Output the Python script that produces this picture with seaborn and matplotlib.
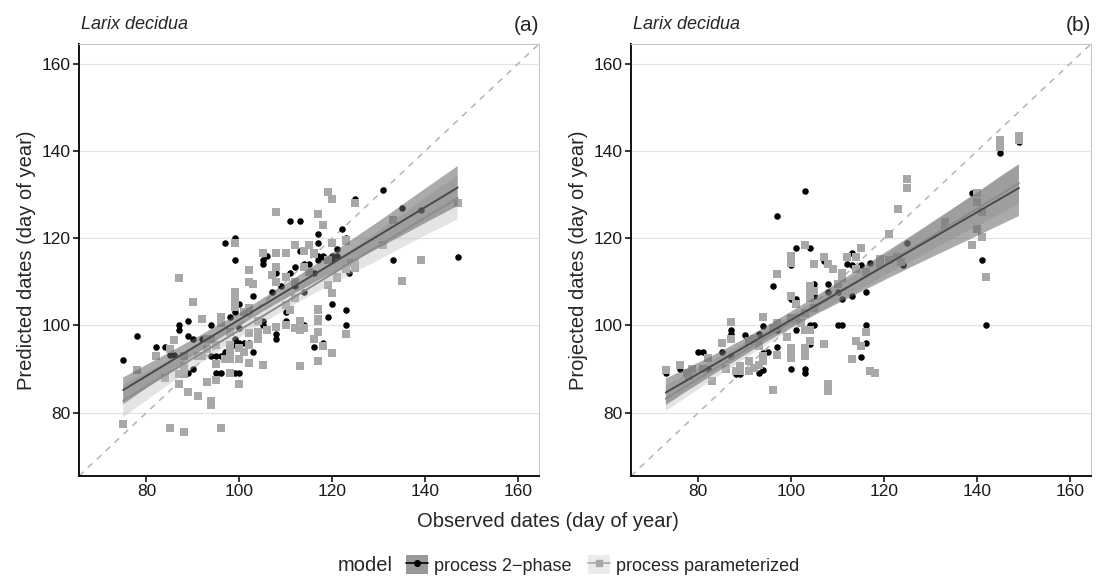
import matplotlib
matplotlib.use("Agg")
import matplotlib.pyplot as plt
from matplotlib.lines import Line2D
from matplotlib.patches import Patch
from matplotlib.legend_handler import HandlerTuple
import pandas as pd
import seaborn as sns

# panel (a): observed vs predicted (last rows of the 2-phase lists sit under grey squares)
a_phase_obs = [125, 111, 113, 97, 99, 99, 122, 117, 117, 123, 121, 120, 121, 117, 118, 113, 115, 111, 112, 108,
               106, 105, 105, 108, 109, 112, 116, 123.7, 114, 107, 103, 120, 123, 119, 123, 114, 110, 110, 108, 108,
               104, 105, 105, 104, 103, 116, 118, 100, 98, 99, 102, 100, 99, 99, 100, 101, 102, 98, 97, 98,
               94, 94, 95, 96, 92, 90, 89, 87, 87, 89, 82, 84, 78, 90, 89, 88, 95, 96, 99, 100,
               85, 86, 75, 131, 135, 139, 147, 133, 117, 118, 120, 114,
               78, 82, 84, 87, 89, 91, 93, 95, 88, 125, 119, 120, 133, 147, 131, 117, 118]
a_phase_pred = [129, 124, 124, 119, 120, 115, 122, 121, 119, 120, 117.5, 116, 116, 116, 116, 117, 114, 112, 113.5, 112,
                116, 115, 114, 110, 109, 109, 112, 112, 107.7, 107.7, 106.8, 105, 103.6, 102, 100, 100, 103, 101, 98, 97,
                101, 101, 100, 97, 94, 95, 96, 105, 102, 103, 104, 99.5, 97, 95.6, 96, 96, 96, 94, 94, 93,
                100, 93, 93, 93, 97, 97, 97.5, 100, 99, 101, 95, 95, 97.5, 90, 89, 89.5, 89, 89, 89, 89,
                93.3, 93.3, 92, 131, 127, 126.5, 115.6, 115, 115, 115.7, 115, 114,
                89.9, 93, 87.9, 86.6, 84.8, 83.8, 87, 87.6, 88.8, 128, 130.5, 129, 124.2, 128, 118.5, 125.6, 123]
a_param_obs = [119, 120, 125, 108, 117, 118, 99, 112, 114, 115, 105, 108, 110, 116, 120, 123, 108, 107, 108, 110,
               112, 114, 115, 102, 102, 103, 99, 99, 99, 87, 90, 92, 96, 96, 102, 101, 104, 106, 108, 110,
               111, 112, 110, 113, 113, 117, 117, 117, 120, 119, 121, 124, 125, 123, 123, 120, 117, 116, 113, 105,
               102, 100, 98, 97, 98, 100, 95, 95, 93, 94, 94, 91, 89, 87, 84, 78, 82, 85, 86, 88,
               88, 87, 88, 91, 92, 93, 93, 94, 95, 98, 98, 98, 100, 101, 102, 104, 104, 102, 112, 114,
               75, 85, 88, 96, 133, 147, 131, 139, 135, 123, 115, 114, 116, 119, 125, 125, 121, 117, 117, 118]
a_param_pred = [130.5, 129, 128, 126, 125.6, 123, 119, 118.5, 117, 118.4, 116.5, 116.5, 116.5, 116.5, 119, 119.5, 113.4, 111.5, 110, 111,
                110, 113.4, 112.3, 112.7, 110, 109.6, 107.7, 106, 104.3, 110.8, 105.3, 101.5, 102, 100.5, 104, 103, 101, 99, 99.6, 104.7,
                103.6, 106.2, 100.2, 101, 99, 103.6, 101, 98.6, 107.4, 109.3, 110.8, 114.2, 113.2, 113, 98, 93.7, 91.8, 97, 90.8, 91,
                91.4, 92.2, 92.2, 92.2, 89, 86.6, 91.2, 87.6, 87, 82.7, 81.8, 83.8, 84.8, 86.6, 87.9, 89.9, 93, 94.5, 96.7, 93,
                90.7, 88.8, 88.8, 93, 93, 94.5, 97, 97, 95.6, 98.6, 95.6, 94, 94.8, 94, 95.6, 98.6, 97, 98.3, 99.4, 99.4,
                77.5, 76.6, 75.5, 76.6, 124.2, 128, 118.5, 115, 110.2, 119.4, 118.4, 117, 116.3, 115, 114.4, 113.2, 111, 103.8, 101.5, 95.3]

# panel (b): observed vs projected
b_phase_obs = [97, 101, 104, 113, 112, 113, 115, 107, 117, 125, 105, 108, 108, 110, 116, 113, 111, 96, 100, 101,
               104, 105, 110, 111, 116, 116, 115, 101, 94, 97, 87, 87, 90, 93, 97, 104, 95, 80, 81, 85,
               87, 100, 103, 103, 88, 89, 93, 94, 82, 78, 103, 100, 105, 145, 139, 141, 124, 142, 118, 73,
               76, 78, 100, 103, 94, 149,
               73, 76, 78, 81, 83, 86, 88, 91, 96, 125, 125, 133, 140, 141, 140, 145, 149, 87, 85, 93, 94, 100, 103]
b_phase_proj = [125, 117.8, 117.8, 116.7, 114, 113.8, 113.8, 114.7, 114.2, 119, 109.6, 109.6, 107.7, 107.7, 107.7, 106.8, 106, 109, 106, 106,
                100, 100, 100, 100, 100, 96, 92.8, 99, 99.8, 99, 99, 98, 97.7, 98, 95, 95.7, 94, 94, 94, 94,
                93, 90, 90, 89, 88.8, 88.8, 89, 89.7, 90, 88.8, 130.8, 113.8, 106.8, 139.6, 130.3, 115, 113.8, 100, 89, 89,
                90, 89, 95, 94, 93.7, 142,
                89.8, 91, 88.4, 90, 87.2, 90, 89.5, 89.5, 85.3, 133.6, 131.5, 123.7, 128.2, 126, 122, 142.5, 143.5, 97, 96, 95.2, 91.8, 93.7, 93]
b_param_obs = [123, 121, 115, 103, 100, 100, 100, 105, 107, 108, 109, 112, 114, 114, 116, 119, 111, 111, 110, 97,
               104, 104, 104, 105, 100, 101, 103, 105, 100, 101, 102, 103, 104, 94, 96, 97, 99, 104, 107, 100,
               100, 100, 103, 103, 97, 87, 85, 87, 91, 92, 93, 94, 94, 93, 91, 91, 92, 89, 88, 89,
               86, 82, 83, 77.6, 78.7, 81, 96, 108, 108, 113, 114, 115, 116, 117, 118, 123.6, 122.7, 119, 121, 125,
               125, 133, 133, 140, 140, 141, 140, 141, 139, 142, 116, 73, 76, 78, 145, 145, 149, 149]
b_param_proj = [126.6, 121, 117.8, 118.5, 116, 115, 114.2, 114, 115.7, 114, 113, 115.7, 115.7, 113, 112.3, 115.3, 112, 110.8, 109.6, 111.7,
                109, 107.7, 106.2, 108, 106.8, 105, 102.8, 104, 101.7, 101.7, 100.5, 99, 99, 102, 99.5, 100.5, 97.3, 96.4, 95.7, 94.8,
                93.7, 92.6, 94.8, 93, 93.3, 100.8, 96, 97, 96.5, 97, 95.2, 93, 91.8, 91, 91.8, 89.5, 90.3, 90.7, 89.5, 89.5,
                90, 92.6, 87.2, 89, 90, 90, 85.3, 86.6, 85, 92.3, 96.5, 95.4, 98.5, 89.5, 89, 114.6, 115.7, 114, 115, 133.6,
                131.5, 123.7, 123, 130.3, 128.2, 126, 122, 120.3, 118.5, 111, 98.4, 89.8, 91, 88.4, 142.5, 141, 143.5, 142.5]

models = ["process 2\u2212phase", "process parameterized"]
point_colors = ["black", "#a8a8a8"]
line_colors = ["#4a4a4a", "#8c8c8c"]
band_colors = ["#666666", "#bdbdbd"]
band_alphas = [0.55, 0.4]
lims = (65.5, 164.5)
ticks = [80, 100, 120, 140, 160]

sns.set_theme(style="white")
plt.rcParams['font.family'] = ['Liberation Sans', 'DejaVu Sans']


def make_df(obs1, y1, obs2, y2):
    d1 = pd.DataFrame({"obs": obs1, "y": y1, "model": models[0]})
    d2 = pd.DataFrame({"obs": obs2, "y": y2, "model": models[1]})
    return pd.concat([d1, d2], ignore_index=True)


def panel(ax, df, ylabel, tag):
    ax.set_xlim(lims)
    ax.set_ylim(lims)
    ax.grid(axis="y", color="#e3e3e3", lw=0.9)
    ax.set_axisbelow(True)
    ax.plot(lims, lims, ls=(0, (4, 4)), color="#b3b3b3", lw=1.1, zorder=1)
    sub1 = df[df.model == models[0]]
    sub2 = df[df.model == models[1]]
    sns.scatterplot(data=sub1, x="obs", y="y", ax=ax, color=point_colors[0], marker="o",
                    s=22, linewidth=0, zorder=2)
    sns.scatterplot(data=sub2, x="obs", y="y", ax=ax, color=point_colors[1], marker="s",
                    s=28, linewidth=0, zorder=2)
    for i in [1, 0]:
        sub = df[df.model == models[i]]
        sns.regplot(data=sub, x="obs", y="y", ax=ax, scatter=False, ci=95, n_boot=1000, seed=3,
                    color=line_colors[i], line_kws=dict(lw=1.4, zorder=4))
        band = ax.collections[-1]
        band.set_facecolor(band_colors[i])
        band.set_edgecolor("none")
        band.set_alpha(band_alphas[i])
        band.set_zorder(3)
    ax.set_xticks(ticks)
    ax.set_yticks(ticks)
    ax.tick_params(axis="both", direction="out", length=4, width=1.1, color="black",
                   labelsize=12.5, labelcolor="#1a1a1a", pad=2, left=True, bottom=True)
    for s in ["left", "bottom"]:
        ax.spines[s].set_color("black")
        ax.spines[s].set_linewidth(1.3)
    for s in ["top", "right"]:
        ax.spines[s].set_color("#c8c8c8")
        ax.spines[s].set_linewidth(0.8)
    ax.set_xlabel("")
    ax.set_ylabel(ylabel, fontsize=14.5, labelpad=4)
    ax.text(0.005, 1.025, "Larix decidua", style="italic", fontsize=13, transform=ax.transAxes,
            ha="left", va="bottom")
    ax.text(1.0, 1.022, tag, fontsize=15, transform=ax.transAxes, ha="right", va="bottom")


fig = plt.figure(figsize=(10.96, 5.79), dpi=100)
ax_a = fig.add_axes([0.0721, 0.1779, 0.4197, 0.7461])
ax_b = fig.add_axes([0.5757, 0.1779, 0.4197, 0.7461])

panel(ax_a, make_df(a_phase_obs, a_phase_pred, a_param_obs, a_param_pred),
      "Predicted dates (day of year)", "(a)")
panel(ax_b, make_df(b_phase_obs, b_phase_proj, b_param_obs, b_param_proj),
      "Projected dates (day of year)", "(b)")

fig.text(0.5, 0.1, "Observed dates (day of year)", fontsize=14.5, ha="center", va="center")

# legend along the bottom
fig.text(0.308, 0.024, "model", fontsize=14.5, ha="left", va="center")
handles = [
    (Patch(facecolor="#999999", edgecolor="none"),
     Line2D([], [], color="black", lw=1.2, marker="o", markersize=4)),
    (Patch(facecolor="#ebebeb", edgecolor="none"),
     Line2D([], [], color="#a8a8a8", lw=1.2, marker="s", markersize=4)),
]
fig.legend(handles, models, handler_map={tuple: HandlerTuple(ndivide=1, pad=0)},
           loc="center left", bbox_to_anchor=(0.362, 0.024), ncol=2, frameon=False,
           fontsize=13, handlelength=1.25, handleheight=1.25, handletextpad=0.3,
           columnspacing=0.9, borderpad=0)

fig.savefig("out.png", dpi=100)
